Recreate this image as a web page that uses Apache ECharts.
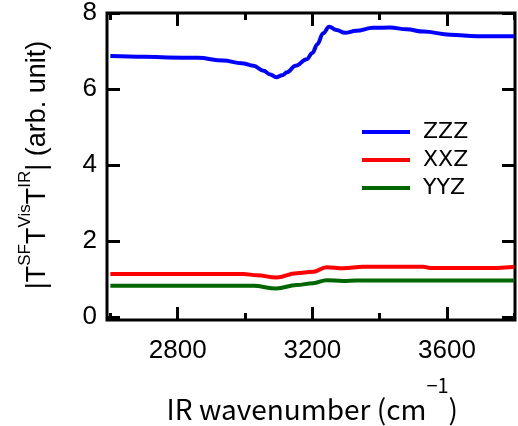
<!DOCTYPE html>
<html>
<head>
<meta charset="utf-8">
<script src="https://cdn.jsdelivr.net/npm/echarts@6/dist/echarts.min.js"></script>
<style>
  html, body { margin: 0; padding: 0; background: #fff; }
  #main { width: 518px; height: 426px; }
</style>
</head>
<body>
<div id="main"></div>
<script>
(function () {

	// IR wavenumber (cm-1) and |T T T| values
	var zzzX = [2600, 2700, 2770, 2860, 2935, 2990, 3025, 3055, 3075, 3093, 3110, 3125, 3150, 3183, 3200, 3215, 3232, 3250, 3272, 3297, 3330, 3380, 3430, 3480, 3530, 3610, 3690, 3800];
	var zzzY = [6.87, 6.85, 6.83, 6.82, 6.75, 6.68, 6.61, 6.48, 6.38, 6.31, 6.36, 6.44, 6.61, 6.78, 6.95, 7.18, 7.47, 7.64, 7.55, 7.48, 7.53, 7.61, 7.62, 7.57, 7.51, 7.43, 7.39, 7.39];

	var xxzX = [2600, 2800, 2995, 3035, 3093, 3153, 3202, 3242, 3292, 3350, 3530, 3550, 3750, 3800];
	var xxzY = [1.13, 1.13, 1.13, 1.10, 1.04, 1.15, 1.19, 1.31, 1.28, 1.32, 1.32, 1.29, 1.29, 1.32];

	var yyzX = [2600, 2800, 3025, 3093, 3153, 3202, 3242, 3292, 3330, 3550, 3800];
	var yyzY = [0.82, 0.82, 0.82, 0.75, 0.84, 0.89, 0.97, 0.95, 0.96, 0.96, 0.96];

	// axis ranges (frame) and tick ranges
	var xFrame = [2590, 3802];
	var yFrame = [-0.079, 8];
	var xMinorRange = [2600, 3800];   // short ticks every 400 from 2600
	var xMajorRange = [2800, 3600];   // labelled ticks every 400 from 2800
	var yTickRange = [0, 8];

	function zip(xs, ys) {
		var out = [];
		for (var i = 0; i < xs.length; i++) {
			out.push([xs[i], ys[i]]);
		}
		return out;
	}

	var chart = echarts.init(document.getElementById('main'), null, { renderer: 'canvas' });

	// frame in pixels
	var fL = 107, fR = 515, fT = 13, fB = 320, W = 518, H = 426;
	function px(v) { return fL + (v - xFrame[0]) / (xFrame[1] - xFrame[0]) * (fR - fL); }
	function py(v) { return fB - (v - yFrame[0]) / (yFrame[1] - yFrame[0]) * (fB - fT); }

	var majorLen = 13, minorLen = 7;
	var labelFont = 'Liberation Sans';
	var black3 = { color: '#000', width: 3 };

	// ticks are drawn as split lines of thin grids lying along the frame edges
	function tickAxis(grid, pos, range, interval, label) {
		return {
			type: 'value',
			gridIndex: grid,
			position: pos,
			min: range[0],
			max: range[1],
			interval: interval,
			axisLine: { show: false },
			axisTick: { show: false },
			splitLine: { show: true, lineStyle: black3 },
			axisLabel: label ? label : { show: false }
		};
	}

	// filler axis for a grid that only needs one direction
	function blankAxis(grid) {
		return { type: 'value', gridIndex: grid, min: 1, max: 2, show: false };
	}

	var xLabeled = tickAxis(3, 'bottom', xMajorRange, 400, {
		show: true,
		margin: 18,
		color: '#000',
		fontSize: 26,
		fontFamily: labelFont,
		formatter: function (v) { return String(v); }
	});
	xLabeled.name = '{n|IR wavenumber (cm}{s|\u22121}{n|)}';
	xLabeled.nameLocation = 'middle';
	xLabeled.nameGap = 55;
	xLabeled.nameTextStyle = {
		rich: {
			n: { fontSize: 28, fontFamily: 'Noto Sans CJK JP', color: '#000', lineHeight: 48, verticalAlign: 'bottom' },
			s: { fontSize: 20, fontFamily: 'Noto Sans CJK JP', color: '#000', lineHeight: 48, verticalAlign: 'top' }
		}
	};

	var yLabeled = tickAxis(5, 'left', yTickRange, 2, {
		show: true,
		margin: 10,
		color: '#000',
		fontSize: 26,
		fontFamily: labelFont
	});
	yLabeled.name = '{n||T}{s|SF}{n|T}{s|Vis}{n|T}{s|IR}{n|| (arb. unit)}';
	yLabeled.nameLocation = 'middle';
	yLabeled.nameGap = 56;
	yLabeled.nameTextStyle = {
		rich: {
			n: { fontSize: 27, fontFamily: 'Liberation Sans', color: '#000', lineHeight: 34, verticalAlign: 'bottom' },
			s: { fontSize: 17, fontFamily: 'Liberation Sans', color: '#000', lineHeight: 34, verticalAlign: 'top' }
		}
	};

	var xMinL = px(xMinorRange[0]), xMinR = W - px(xMinorRange[1]);
	var xMajL = px(xMajorRange[0]), xMajR = W - px(xMajorRange[1]);
	var yT = py(yTickRange[1]), yB = H - py(yTickRange[0]);

	chart.setOption({
		animation: false,
		backgroundColor: '#fff',
		grid: [
			// 0: frame with the curves
			{ show: true, left: fL, right: W - fR, top: fT, bottom: H - fB, backgroundColor: 'transparent', borderColor: '#000', borderWidth: 3 },
			// 1, 2: short x ticks at bottom and top
			{ left: xMinL, right: xMinR, top: fB - minorLen, bottom: H - fB },
			{ left: xMinL, right: xMinR, top: fT, bottom: H - fT - minorLen },
			// 3, 4: long x ticks at bottom and top
			{ left: xMajL, right: xMajR, top: fB - majorLen, bottom: H - fB },
			{ left: xMajL, right: xMajR, top: fT, bottom: H - fT - majorLen },
			// 5, 6: y ticks at left and right
			{ left: fL, right: W - fL - majorLen, top: yT, bottom: yB },
			{ left: fR - majorLen, right: W - fR, top: yT, bottom: yB }
		],
		legend: {
			orient: 'vertical',
			left: 362,
			top: 121,
			padding: 0,
			icon: 'rect',
			itemWidth: 48,
			itemHeight: 4,
			itemGap: 6,
			textStyle: {
				fontSize: 22,
				fontFamily: 'DejaVu Sans',
				color: '#000',
				lineHeight: 22,
				padding: [0, 0, 0, 8]
			},
			data: ['ZZZ', 'XXZ', 'YYZ']
		},
		xAxis: [
			{ type: 'value', gridIndex: 0, min: xFrame[0], max: xFrame[1], show: false },
			tickAxis(1, 'bottom', xMinorRange, 400),
			tickAxis(2, 'top', xMinorRange, 400),
			xLabeled,
			tickAxis(4, 'top', xMajorRange, 400),
			blankAxis(5),
			blankAxis(6)
		],
		yAxis: [
			{ type: 'value', gridIndex: 0, min: yFrame[0], max: yFrame[1], show: false },
			blankAxis(1),
			blankAxis(2),
			blankAxis(3),
			blankAxis(4),
			yLabeled,
			tickAxis(6, 'right', yTickRange, 2)
		],
		series: [
			{ name: 'ZZZ', type: 'line', xAxisIndex: 0, yAxisIndex: 0, data: zip(zzzX, zzzY), smooth: 0.4, smoothMonotone: 'x', symbol: 'none', lineStyle: { color: '#0000ff', width: 4 }, itemStyle: { color: '#0000ff' } },
			{ name: 'XXZ', type: 'line', xAxisIndex: 0, yAxisIndex: 0, data: zip(xxzX, xxzY), smooth: 0.4, smoothMonotone: 'x', symbol: 'none', lineStyle: { color: '#ff0000', width: 4 }, itemStyle: { color: '#ff0000' } },
			{ name: 'YYZ', type: 'line', xAxisIndex: 0, yAxisIndex: 0, data: zip(yyzX, yyzY), smooth: 0.4, smoothMonotone: 'x', symbol: 'none', lineStyle: { color: '#006600', width: 4 }, itemStyle: { color: '#006600' } }
		]
	});
})();
</script>
</body>
</html>
